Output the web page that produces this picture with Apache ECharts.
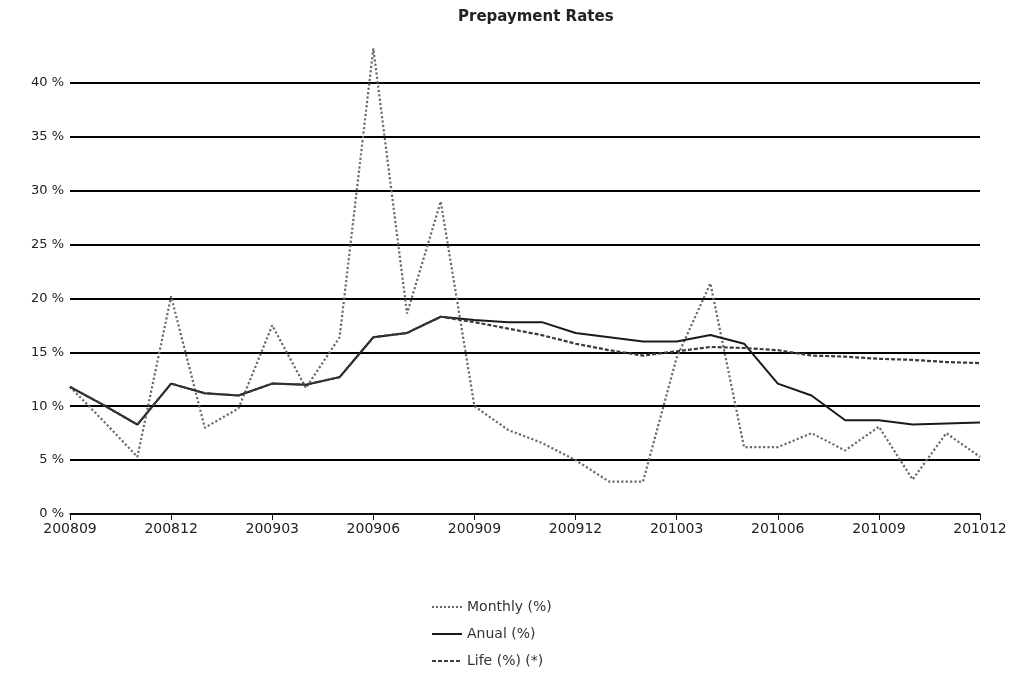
<!DOCTYPE html>
<html>
<head>
<meta charset="utf-8">
<script src="https://cdn.jsdelivr.net/npm/echarts@6/dist/echarts.min.js"></script>
<style>
  html, body { margin: 0; padding: 0; background: #fff; }
  #chart { width: 1014px; height: 681px; }
</style>
</head>
<body>
<div id="chart"></div>
<script>
var months = ['200809', '200810', '200811', '200812', '200901', '200902', '200903', '200904',
    '200905', '200906', '200907', '200908', '200909', '200910', '200911', '200912',
    '201001', '201002', '201003', '201004', '201005', '201006', '201007', '201008',
    '201009', '201010', '201011', '201012'];

var monthly = [11.8, 8.6, 5.3, 20.2, 8.0, 9.8, 17.5, 11.7, 16.4, 43.2, 18.6, 29.0, 10.0, 7.8,
    6.6, 5.0, 3.0, 3.0, 14.5, 21.4, 6.2, 6.2, 7.5, 5.9, 8.1, 3.2, 7.5, 5.3];

var anual = [11.8, 10.1, 8.3, 12.1, 11.2, 11.0, 12.1, 12.0, 12.7, 16.4, 16.8, 18.3, 18.0, 17.8,
    17.8, 16.8, 16.4, 16.0, 16.0, 16.6, 15.8, 12.1, 11.0, 8.7, 8.7, 8.3, 8.4, 8.5];

var life = [11.8, 10.1, 8.3, 12.1, 11.2, 11.0, 12.1, 12.0, 12.7, 16.4, 16.8, 18.3, 17.8, 17.2,
    16.6, 15.8, 15.2, 14.7, 15.1, 15.5, 15.4, 15.2, 14.7, 14.6, 14.4, 14.3, 14.1, 14.0];

var chart = echarts.init(document.getElementById('chart'));

var font = 'DejaVu Sans';

var option = {
    backgroundColor: '#fff',
    animation: false,
    title: {
        text: 'Prepayment Rates',
        left: 453,
        top: 5,
        textStyle: {
            fontFamily: font,
            fontSize: 15,
            fontWeight: 'bold',
            color: '#222'
        }
    },
    legend: {
        orient: 'vertical',
        left: 426,
        top: 595,
        itemWidth: 30,
        itemHeight: 12,
        itemGap: 13,
        itemStyle: { opacity: 0 },
        textStyle: {
            fontFamily: font,
            fontSize: 14,
            color: '#333'
        },
        data: ['Monthly (%)', 'Anual (%)', 'Life (%) (*)']
    },
    grid: {
        left: 70,
        right: 34,
        top: 29,
        bottom: 167
    },
    xAxis: {
        type: 'category',
        boundaryGap: false,
        data: months,
        axisLine: {
            lineStyle: { color: '#111', width: 1.5 }
        },
        axisTick: {
            interval: 2,
            length: 6,
            lineStyle: { color: '#111' }
        },
        axisLabel: {
            interval: 2,
            margin: 8,
            fontFamily: font,
            fontSize: 14,
            color: '#222'
        },
        splitLine: { show: false }
    },
    yAxis: {
        type: 'value',
        min: 0,
        max: 45,
        interval: 5,
        axisLine: { show: false },
        axisTick: { show: false },
        axisLabel: {
            showMaxLabel: false,
            margin: 6,
            fontFamily: font,
            fontSize: 13,
            color: '#222',
            formatter: '{value} %'
        },
        splitLine: {
            showMaxLine: false,
            lineStyle: { color: '#000', width: 2 }
        }
    },
    series: [
        {
            name: 'Monthly (%)',
            type: 'line',
            data: monthly,
            symbol: 'none',
            lineStyle: { color: '#6a6a6a', width: 2.2, type: 'dotted' },
            itemStyle: { color: '#6a6a6a' }
        },
        {
            name: 'Anual (%)',
            type: 'line',
            data: anual,
            symbol: 'none',
            lineStyle: { color: '#1a1a1a', width: 2, type: 'solid' },
            itemStyle: { color: '#1a1a1a' }
        },
        {
            name: 'Life (%) (*)',
            type: 'line',
            data: life,
            symbol: 'none',
            lineStyle: { color: '#3a3a3a', width: 2.2, type: [4, 2] },
            itemStyle: { color: '#3a3a3a' }
        }
    ]
};

chart.setOption(option);
</script>
</body>
</html>
